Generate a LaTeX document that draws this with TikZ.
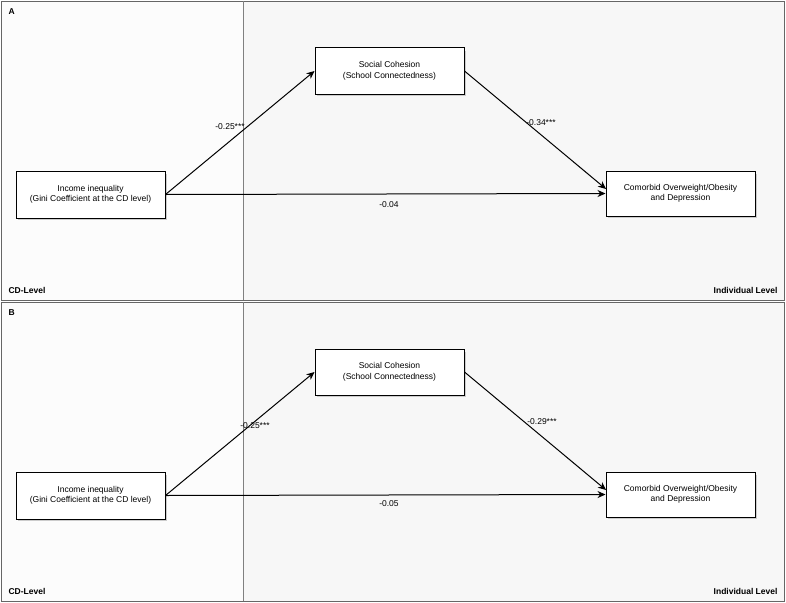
\documentclass[tikz,border=0pt]{standalone}
\usepackage{fontspec}
\setmainfont{Liberation Sans}
\usetikzlibrary{arrows.meta}
\begin{document}
\begin{tikzpicture}[x=1pt,y=-1pt,font=\fontsize{8.5}{10.5}\selectfont,
 box/.style={draw,line width=1pt,fill=white,minimum width=149pt,align=center,inner sep=0pt},
 arr/.style={-{Stealth[length=8pt,width=7pt]},line width=1pt},
 lbl/.style={font=\fontsize{8.5}{10}\selectfont},
 hd/.style={font=\fontsize{8.5}{10}\selectfont\bfseries},
 frame/.style={draw=black!60,line width=0.8pt}]
\useasboundingbox (0,0) rectangle (786,602);
\foreach \o/\p in {0/A, 301/B}{
 \begin{scope}[yshift=-\o pt]
 \fill[black!3] (243,1) rectangle (784,300);
 \fill[black!1] (1,1) rectangle (243,300);
 \draw[frame] (1,1) rectangle (784,300);
 \draw[frame,draw=black!50] (243,1) -- (243,300);
 \node[anchor=west,hd] (p\p) at (5,12) {\p};
 \node[anchor=west,hd] (cd\p) at (5,290) {CD-Level};
 \node[anchor=east,hd] (il\p) at (781,290) {Individual Level};
 \fill[black!20] (18,174) rectangle (167,220);
 \fill[black!20] (317,51) rectangle (466,96);
 \fill[black!20] (608,174) rectangle (757,218);
 \node[box,minimum height=47pt] (inc\p) at (90.5,194.5) {Income inequality\\(Gini Coefficient at the CD level)};
 \node[box,minimum height=46pt] (soc\p) at (389.5,71) {Social Cohesion\\(School Connectedness)};
 \node[box,minimum height=45pt] (com\p) at (680.5,193.5) {Comorbid Overweight/Obesity\\and Depression};
 \coordinate (ce\p) at (606,189);
 \draw[arr] (inc\p.east) -- (soc\p.west);
 \draw[arr] (inc\p.east) -- (com\p.west);
 \draw[arr] (soc\p.east) -- (ce\p);
 \end{scope}}
\node[lbl] (l1) at (230,127) {-0.25***};
\node[lbl] (l2) at (541,123) {-0.34***};
\node[lbl] (l3) at (389,205) {-0.04};
\node[lbl] (l4) at (255,426) {-0.25***};
\node[lbl] (l5) at (542,422) {-0.29***};
\node[lbl] (l6) at (389,504) {-0.05};
\end{tikzpicture}
\end{document}
